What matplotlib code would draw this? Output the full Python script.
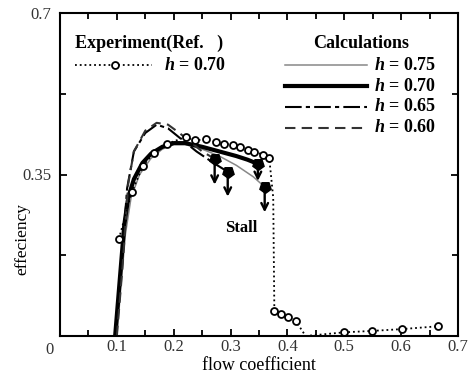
import numpy as np
import matplotlib.pyplot as plt
from matplotlib.lines import Line2D

plt.rcParams['font.family'] = ['Liberation Serif', 'DejaVu Serif']
plt.rcParams['mathtext.fontset'] = 'custom'
plt.rcParams['mathtext.it'] = 'Liberation Serif:italic:bold'
plt.rcParams['mathtext.rm'] = 'Liberation Serif:bold'

# Experiment (Ref.), h = 0.70
exp_x = [0.1035, 0.126, 0.146, 0.165, 0.189, 0.221, 0.237, 0.256, 0.275, 0.289, 0.304,
         0.316, 0.330, 0.342, 0.357, 0.368, 0.375, 0.377, 0.389, 0.401, 0.415, 0.432,
         0.50, 0.549, 0.602, 0.664]
exp_y = [0.210, 0.311, 0.369, 0.397, 0.417, 0.431, 0.424, 0.426, 0.421, 0.417, 0.414,
         0.409, 0.404, 0.399, 0.393, 0.386, 0.300, 0.055, 0.048, 0.041, 0.032, 0.000,
         0.008, 0.011, 0.015, 0.021]
exp_no_marker = [16, 21]

# Calculations
h075_x = [0.100, 0.108, 0.115, 0.125, 0.140, 0.160, 0.180, 0.200, 0.220, 0.250, 0.280, 0.310, 0.340, 0.360]
h075_y = [0.000, 0.120, 0.220, 0.300, 0.350, 0.385, 0.405, 0.415, 0.415, 0.405, 0.390, 0.370, 0.345, 0.323]

h070_x = [0.097, 0.105, 0.113, 0.120, 0.130, 0.145, 0.160, 0.180, 0.200, 0.220, 0.250, 0.280, 0.310, 0.330, 0.348]
h070_y = [0.000, 0.120, 0.240, 0.300, 0.340, 0.375, 0.395, 0.410, 0.418, 0.418, 0.410, 0.400, 0.390, 0.382, 0.373]

h065_x = [0.098, 0.108, 0.118, 0.130, 0.150, 0.170, 0.190, 0.210, 0.240, 0.270, 0.295]
h065_y = [0.000, 0.150, 0.320, 0.400, 0.440, 0.458, 0.450, 0.430, 0.400, 0.375, 0.356]

h060_x = [0.100, 0.110, 0.120, 0.130, 0.150, 0.170, 0.190, 0.210, 0.230, 0.250, 0.272]
h060_y = [0.000, 0.150, 0.330, 0.400, 0.445, 0.462, 0.458, 0.440, 0.420, 0.400, 0.384]

# stall points (start, end of arrow)
stall_x = [0.272, 0.295, 0.348, 0.360]
stall_y = [0.384, 0.356, 0.373, 0.323]
stall_end = [0.322, 0.296, 0.330, 0.262]

fig = plt.figure(figsize=(4.75, 3.76), dpi=100)
ax = fig.add_axes([60/475, 1 - 336/376, 398/475, 323/376])

ax.plot(h075_x, h075_y, color='#888888', lw=1.1)
ax.plot(h070_x, h070_y, color='black', lw=3.0)
ax.plot(h065_x, h065_y, color='black', lw=1.5, linestyle=(0, (8, 2, 2, 2)))
ax.plot(h060_x, h060_y, color='#333333', lw=1.5, linestyle=(0, (5, 3)))

marks = [i for i in range(len(exp_x)) if i not in exp_no_marker]
ax.plot(exp_x, exp_y, color='black', lw=1.3, linestyle=':', marker='o',
        markersize=5, markerfacecolor='white', markeredgewidth=1.3, markevery=marks)

for sx, sy, se in zip(stall_x, stall_y, stall_end):
    ax.annotate('', xy=(sx, se), xytext=(sx, sy),
                arrowprops=dict(arrowstyle='->', color='black', lw=1.7, mutation_scale=12))
ax.plot(stall_x, stall_y, linestyle='none', marker=(5, 0, 180), markersize=8.5, color='black')

ax.text(0.291, 0.234, 'Stall', fontsize=12, fontweight='bold', va='center')

ax.set_xlim(0, 0.7)
ax.set_ylim(0, 0.7)
ax.set_xticks([0.1, 0.2, 0.3, 0.4, 0.5, 0.6, 0.7])
ax.set_xticklabels(['0.1', '0.2', '0.3', '0.4', '0.5', '0.6', '0.7'])
ax.set_xticks(np.arange(0.05, 0.7, 0.1), minor=True)
ax.set_yticks([0.35, 0.7])
ax.set_yticklabels(['0.35', '0.7'])
ax.set_yticks([0.175, 0.525], minor=True)
ax.tick_params(which='both', direction='in', top=True, right=True, labelsize=12,
               labelcolor='#333333', width=1.3)
ax.tick_params(which='major', length=5)
ax.tick_params(which='minor', length=4)
ax.tick_params(axis='y', pad=6)
ax.tick_params(axis='x', pad=2)
ax.text(-0.012, -0.012, '0', transform=ax.transData, fontsize=12, color='#333333',
        ha='right', va='top')
for sp in ax.spines.values():
    sp.set_linewidth(1.5)

ax.set_xlabel('flow coefficient', fontsize=13)
ax.xaxis.set_label_coords(0.5, -0.066)
ax.set_ylabel('effeciency', fontsize=12.5)
ax.yaxis.set_label_coords(-0.075, 0.30)

# legend drawn by hand
ax.text(0.038, 0.905, 'Experiment(Ref.   )', transform=ax.transAxes, fontsize=13,
        fontweight='bold', va='center')
ax.add_line(Line2D([0.038, 0.232], [0.838, 0.838], transform=ax.transAxes,
                   color='black', lw=1.3, linestyle=':'))
ax.plot([0.138], [0.838], transform=ax.transAxes, marker='o', markersize=5,
        markerfacecolor='white', markeredgecolor='black', markeredgewidth=1.3)
ax.text(0.262, 0.838, r'$h$ = 0.70', transform=ax.transAxes, fontsize=13,
        fontweight='bold', va='center')

ax.text(0.635, 0.905, 'Calculations', transform=ax.transAxes, fontsize=13,
        fontweight='bold', va='center')
leg_labels = ['0.75', '0.70', '0.65', '0.60']
leg_styles = [dict(color='#888888', lw=1.1), dict(color='black', lw=3.0),
              dict(color='black', lw=1.5, linestyle=(0, (8, 2, 2, 2))),
              dict(color='#333333', lw=1.5, linestyle=(0, (5, 3)))]
leg_y = [0.838, 0.773, 0.709, 0.644]
for lab, st, ly in zip(leg_labels, leg_styles, leg_y):
    ax.add_line(Line2D([0.565, 0.771], [ly, ly], transform=ax.transAxes, **st))
    ax.text(0.79, ly, r'$h$ = ' + lab, transform=ax.transAxes, fontsize=13,
            fontweight='bold', va='center')

fig.savefig('out.png', dpi=100)
